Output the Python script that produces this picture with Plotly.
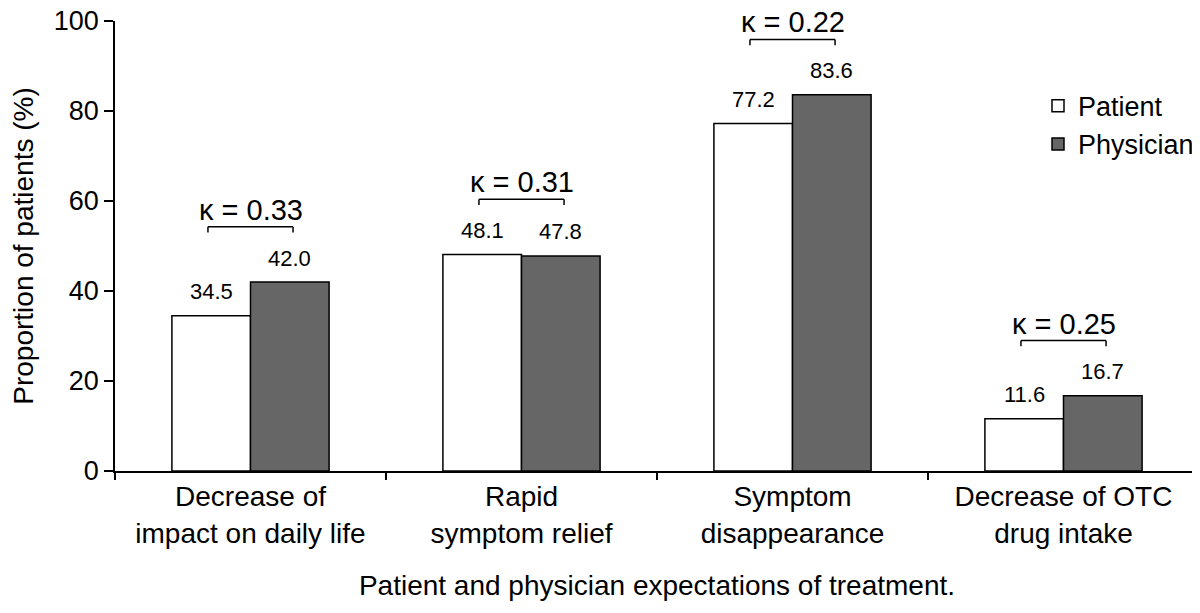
import plotly.graph_objects as go

categories = ["Decrease of<br>impact on daily life", "Rapid<br>symptom relief",
              "Symptom<br>disappearance", "Decrease of OTC<br>drug intake"]
patient = [34.5, 48.1, 77.2, 11.6]
physician = [42.0, 47.8, 83.6, 16.7]
kappa = ["0.33", "0.31", "0.22", "0.25"]
y_ticks = [0, 20, 40, 60, 80, 100]

FONT = "Arial, Liberation Sans, Helvetica, sans-serif"
BAR_HALF = 0.145
BRACKET_HALF = 0.157
BRACKET_GAP = 12.3
LEG = 1.3

fig = go.Figure()
fig.add_trace(go.Bar(name="Patient", x=categories, y=patient,
                     marker=dict(color="white", line=dict(color="black", width=1.5))))
fig.add_trace(go.Bar(name="Physician", x=categories, y=physician,
                     marker=dict(color="#666666", line=dict(color="black", width=1.5))))

annotations = []
shapes = []
for i, (p, d, k) in enumerate(zip(patient, physician, kappa)):
    annotations.append(dict(x=i - BAR_HALF, y=p, xref="x", yref="y", text=f"{p:.1f}",
                            showarrow=False, yshift=24, font=dict(size=22, color="black", family=FONT)))
    annotations.append(dict(x=i + BAR_HALF, y=d, xref="x", yref="y", text=f"{d:.1f}",
                            showarrow=False, yshift=24, font=dict(size=22, color="black", family=FONT)))
    by = max(p, d) + BRACKET_GAP
    x0, x1 = i - BRACKET_HALF, i + BRACKET_HALF
    ln = dict(color="black", width=1.5)
    shapes.append(dict(type="line", xref="x", yref="y", x0=x0, x1=x1, y0=by, y1=by, line=ln))
    shapes.append(dict(type="line", xref="x", yref="y", x0=x0, x1=x0, y0=by, y1=by - LEG, line=ln))
    shapes.append(dict(type="line", xref="x", yref="y", x0=x1, x1=x1, y0=by, y1=by - LEG, line=ln))
    annotations.append(dict(x=i, y=by, xref="x", yref="y", text=f"κ = {k}",
                            showarrow=False, yshift=17, font=dict(size=29, color="black", family=FONT)))

# The page body has an 8px default margin, so the figure is sized and
# margined to land the plot area where the reference has it.
fig.update_layout(
    width=1192, height=597,
    margin=dict(l=107, r=1, t=13, b=134, autoexpand=False),
    paper_bgcolor="white", plot_bgcolor="white",
    font=dict(family=FONT, color="black"),
    barmode="group", bargap=0.42, bargroupgap=0,
    annotations=annotations, shapes=shapes,
    legend=dict(x=1.0, y=0.865, xanchor="right", yanchor="top",
                font=dict(size=27, color="black", family=FONT),
                bgcolor="rgba(0,0,0,0)", tracegroupgap=0),
    xaxis=dict(type="category", tickson="boundaries", ticks="outside", ticklen=7,
               tickwidth=1.5, tickcolor="black", showline=True, linecolor="black",
               linewidth=1.5, showgrid=False, automargin=False,
               tickfont=dict(size=28, family=FONT),
               title=dict(text="Patient and physician expectations of treatment.",
                          font=dict(size=28, family=FONT), standoff=28)),
    yaxis=dict(range=[0, 100], tickvals=y_ticks, ticks="outside", ticklen=9,
               tickwidth=1.5, tickcolor="black", showline=True, linecolor="black",
               linewidth=1.5, showgrid=False, zeroline=False, automargin=False,
               ticklabeloverflow="allow",
               tickfont=dict(size=27, family=FONT),
               title=dict(text="Proportion of patients (%)", font=dict(size=28, family=FONT),
                          standoff=12)),
)

fig.write_html("out.html")
